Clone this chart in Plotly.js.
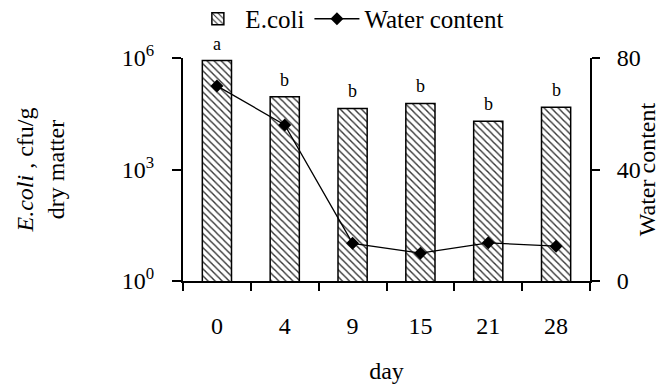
<!DOCTYPE html>
<html>
<head>
<meta charset="utf-8">
<script src="https://cdn.plot.ly/plotly-3.0.1.min.js"></script>
<style>html,body{margin:0;padding:0;background:#fff;}#chart{width:660px;height:389px;}</style>
</head>
<body>
<div id="chart"></div>
<script>
const days = ["0", "4", "9", "15", "21", "28"];
const ecoli = [850000, 90000, 44000, 60000, 20000, 47000];
const water = [70, 56, 13.5, 10, 13.7, 12.5];
const letters = ["a", "b", "b", "b", "b", "b"];
const leftTickVals = [1, 1000, 1000000];
const leftTickText = ["10<sup>0</sup>", "10<sup>3</sup>", "10<sup>6</sup>"];
const rightTickVals = [0, 40, 80];

const FONT = "Liberation Serif, Times New Roman, serif";

const traces = [
  {
    type: "bar", name: "E.coli", x: days, y: ecoli, width: 0.43,
    marker: {
      color: "white",
      line: {color: "black", width: 1.5},
      pattern: {shape: "\\", size: 5, solidity: 0.28, fgcolor: "#333", bgcolor: "white"}
    },
    hoverinfo: "skip"
  },
  {
    type: "scatter", mode: "lines+markers", name: "Water content", x: days, y: water,
    yaxis: "y2",
    line: {color: "black", width: 1.3},
    marker: {symbol: "diamond", size: 10, color: "black"}
  }
];

const annotations = days.map((d, i) => ({
  x: i, y: Math.log10(ecoli[i]), xref: "x", yref: "y",
  text: letters[i], showarrow: false, yanchor: "bottom", yshift: 5,
  font: {family: FONT, size: 18, color: "black"}
}));

const layout = {
  width: 660, height: 389,
  margin: {l: 183, r: 70, t: 58, b: 108, autoexpand: false},
  paper_bgcolor: "white", plot_bgcolor: "white",
  font: {family: FONT, color: "black", size: 23},
  showlegend: true,
  legend: {
    orientation: "h", x: 0.41, xanchor: "center", y: 1.175, yanchor: "middle",
    font: {family: FONT, size: 25, color: "black"}, itemwidth: 45, bgcolor: "rgba(0,0,0,0)"
  },
  xaxis: {
    type: "category", range: [-0.5, 5.5], showline: true, linewidth: 2, linecolor: "black",
    ticks: "outside", tickson: "boundaries", ticklen: 8, tickwidth: 2, tickcolor: "black",
    showgrid: false, zeroline: false, ticklabelstandoff: 22, tickangle: 0,
    tickfont: {family: FONT, size: 24, color: "black"},
    title: {text: "day", font: {family: FONT, size: 24, color: "black"}, standoff: 24}
  },
  yaxis: {
    type: "log", range: [0, 6], showline: true, linewidth: 2, linecolor: "black",
    ticks: "outside", ticklen: 9, tickwidth: 2, tickcolor: "black",
    tickvals: leftTickVals, ticktext: leftTickText, showgrid: false, zeroline: false,
    ticklabelstandoff: 13,
    tickfont: {family: FONT, size: 24, color: "black"},
    title: {text: "<i>E.coli</i> , cfu/g<br>dry matter", font: {family: FONT, size: 24, color: "black"}, standoff: 50}
  },
  yaxis2: {
    overlaying: "y", side: "right", range: [0, 80], showline: true, linewidth: 2, linecolor: "black",
    ticks: "outside", ticklen: 8, tickwidth: 2, tickcolor: "black",
    tickvals: rightTickVals, showgrid: false, zeroline: false,
    ticklabelstandoff: 12,
    tickfont: {family: FONT, size: 24, color: "black"},
    title: {text: "Water content", font: {family: FONT, size: 24, color: "black"}, standoff: 4}
  },
  annotations: annotations
};

Plotly.newPlot("chart", traces, layout, {displayModeBar: false, staticPlot: true});
</script>
</body>
</html>
